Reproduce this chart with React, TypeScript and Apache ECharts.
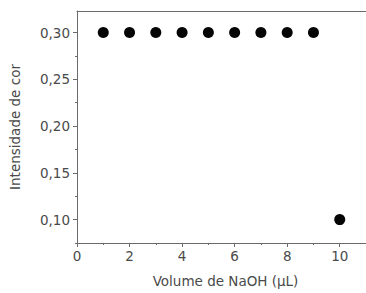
import React, { useEffect, useRef } from "react";
import * as echarts from "echarts";

const volumes = [1, 2, 3, 4, 5, 6, 7, 8, 9, 10];
const intensities = [0.30, 0.30, 0.30, 0.30, 0.30, 0.30, 0.30, 0.30, 0.30, 0.10];
const yMajorTicks = [0.10, 0.15, 0.20, 0.25, 0.30];
const yMinorTicks = [0.075, 0.125, 0.175, 0.225, 0.275];
const xMajorTicks = [0, 2, 4, 6, 8, 10];
const xMinorTicks = [1, 3, 5, 7, 9, 11];

export default function App() {
  const ref = useRef<HTMLDivElement>(null);
  useEffect(() => {
    const chart = echarts.init(ref.current!, null, { renderer: "svg" });
    const font = "'DejaVu Sans', Verdana, sans-serif";
    const axisColor = "#6a6a6a";
    const textColor = "#4a4a4a";
    chart.setOption({
      animation: false,
      backgroundColor: "#ffffff",
      grid: { left: 77, top: 11, width: 291, height: 234, show: false },
      xAxis: [
        {
          type: "value", min: 0, max: 11, position: "bottom",
          axisLine: { show: true, lineStyle: { color: axisColor } },
          axisTick: { show: true, length: 4, customValues: xMajorTicks, lineStyle: { color: axisColor } },
          axisLabel: { customValues: xMajorTicks, color: textColor, fontFamily: font, fontSize: 13.5, margin: 6 },
          splitLine: { show: false },
          name: "Volume de NaOH (\u00b5L)", nameLocation: "middle", nameGap: 31,
          nameTextStyle: { color: textColor, fontFamily: font, fontSize: 13.5, padding: [0, 0, 0, 8] },
        },
        {
          type: "value", min: 0, max: 11, position: "bottom",
          axisLine: { show: false },
          axisTick: { show: true, length: 2, customValues: xMinorTicks, lineStyle: { color: axisColor } },
          axisLabel: { show: false },
          splitLine: { show: false },
        },
        {
          type: "value", min: 0, max: 11, position: "top",
          axisLine: { show: true, lineStyle: { color: axisColor } },
          axisTick: { show: false },
          axisLabel: { show: false },
          splitLine: { show: false },
        },
      ],
      yAxis: [
        {
          type: "value", min: 0.075, max: 0.323,
          axisLine: { show: true, lineStyle: { color: axisColor } },
          axisTick: { show: true, length: 4, customValues: yMajorTicks, lineStyle: { color: axisColor } },
          axisLabel: {
            customValues: yMajorTicks, color: textColor, fontFamily: font, fontSize: 13.5, margin: 7,
            formatter: (v: number) => v.toFixed(2).replace(".", ","),
          },
          splitLine: { show: false },
          name: "Intensidade de cor", nameLocation: "middle", nameGap: 55, nameRotate: 90,
          nameTextStyle: { color: textColor, fontFamily: font, fontSize: 13.5 },
        },
        {
          type: "value", min: 0.075, max: 0.323, position: "left",
          axisLine: { show: false },
          axisTick: { show: true, length: 2, customValues: yMinorTicks, lineStyle: { color: axisColor } },
          axisLabel: { show: false },
          splitLine: { show: false },
        },
      ],
      series: [
        {
          type: "scatter",
          xAxisIndex: 0, yAxisIndex: 0,
          data: volumes.map((v, i) => [v, intensities[i]]),
          symbol: "circle", symbolSize: 11,
          itemStyle: { color: "#050505", opacity: 1 },
        },
      ],
    });
    return () => chart.dispose();
  }, []);
  return <div ref={ref} style={{ width: 366, height: 293, position: "absolute", left: 0, top: 0 }} />;
}
